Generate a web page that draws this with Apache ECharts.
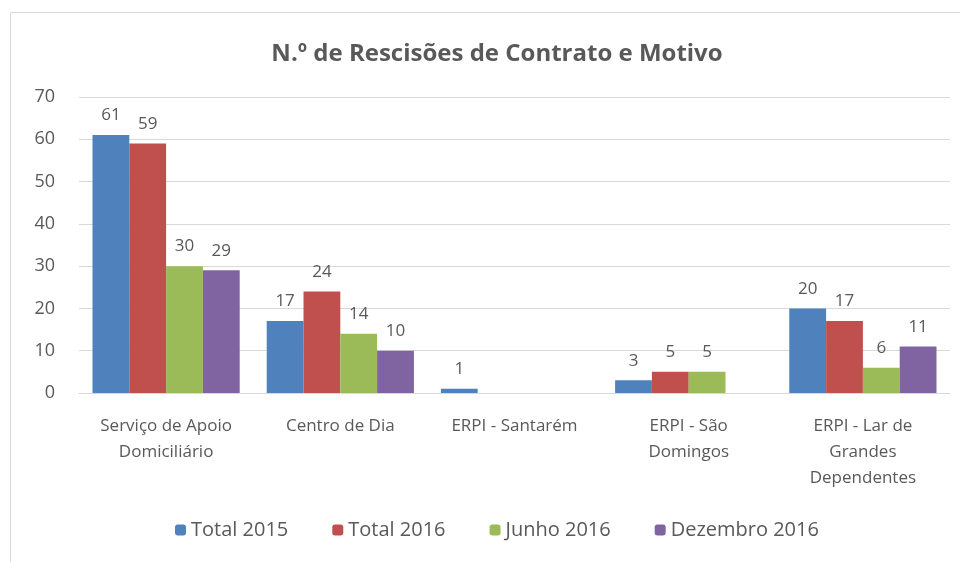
<!DOCTYPE html>
<html>
<head>
    <meta charset="utf-8" />
    <title>N.º de Rescisões de Contrato e Motivo</title>
    <style>
        html, body { margin: 0; padding: 0; background: #fff; }
        #chart { width: 960px; height: 562px; }
    </style>
</head>
<body>
    <div id="chart"></div>
    <script src="https://cdn.jsdelivr.net/npm/echarts@6/dist/echarts.min.js"></script>
    <script>
        // categorias (eixo x)
        const categorias = [
            'Serviço de Apoio\nDomiciliário',
            'Centro de Dia',
            'ERPI - Santarém',
            'ERPI - São\nDomingos',
            'ERPI - Lar de\nGrandes\nDependentes'
        ];
        // séries
        const total2015 = [61, 17, 1, 3, 20];
        const total2016 = [59, 24, null, 5, 17];
        const junho2016 = [30, 14, null, 5, 6];
        const dezembro2016 = [29, 10, null, null, 11];

        const cores = ['#4F81BD', '#C0504D', '#9BBB59', '#8064A2'];
        const fonte = '"Open Sans", "Liberation Sans", sans-serif';
        const cinza = '#595959';

        const serie = function (nome, dados) {
            return {
                name: nome,
                type: 'bar',
                data: dados,
                barGap: 0,
                barCategoryGap: '15.5%',
                label: {
                    show: true,
                    position: 'top',
                    distance: 11,
                    color: cinza,
                    fontSize: 17,
                    fontFamily: fonte
                }
            };
        };

        const chart = echarts.init(document.getElementById('chart'));
        chart.setOption({
            color: cores,
            animation: false,
            textStyle: { fontFamily: fonte },
            title: {
                text: 'N.º de Rescisões de Contrato e Motivo',
                left: 492,
                top: 37,
                textAlign: 'center',
                textStyle: { fontSize: 24, fontWeight: 'bold', color: cinza, fontFamily: fonte }
            },
            graphic: [{
                type: 'rect',
                shape: { x: 10.5, y: 12.5, width: 960, height: 560 },
                style: { fill: 'none', stroke: '#d9d9d9', lineWidth: 1 },
                silent: true
            }],
            legend: {
                bottom: 17,
                left: 170,
                orient: 'horizontal',
                itemWidth: 11,
                itemHeight: 11,
                itemGap: 44,
                textStyle: { fontSize: 20, color: cinza, fontFamily: fonte },
                data: ['Total 2015', 'Total 2016', 'Junho 2016', 'Dezembro 2016']
            },
            grid: { left: 79, right: 10, top: 97, bottom: 169 },
            xAxis: {
                type: 'category',
                data: categorias,
                axisLine: { lineStyle: { color: '#d9d9d9' } },
                axisTick: { show: false },
                axisLabel: {
                    interval: 0,
                    margin: 20,
                    fontSize: 17,
                    lineHeight: 26,
                    color: cinza,
                    fontFamily: fonte
                }
            },
            yAxis: {
                type: 'value',
                min: 0,
                max: 70,
                interval: 10,
                axisLine: { show: false },
                axisTick: { show: false },
                axisLabel: { fontSize: 18, color: cinza, margin: 24, fontFamily: fonte },
                splitLine: { lineStyle: { color: '#d9d9d9' } }
            },
            series: [
                serie('Total 2015', total2015),
                serie('Total 2016', total2016),
                serie('Junho 2016', junho2016),
                serie('Dezembro 2016', dezembro2016)
            ]
        });
    </script>
</body>
</html>
